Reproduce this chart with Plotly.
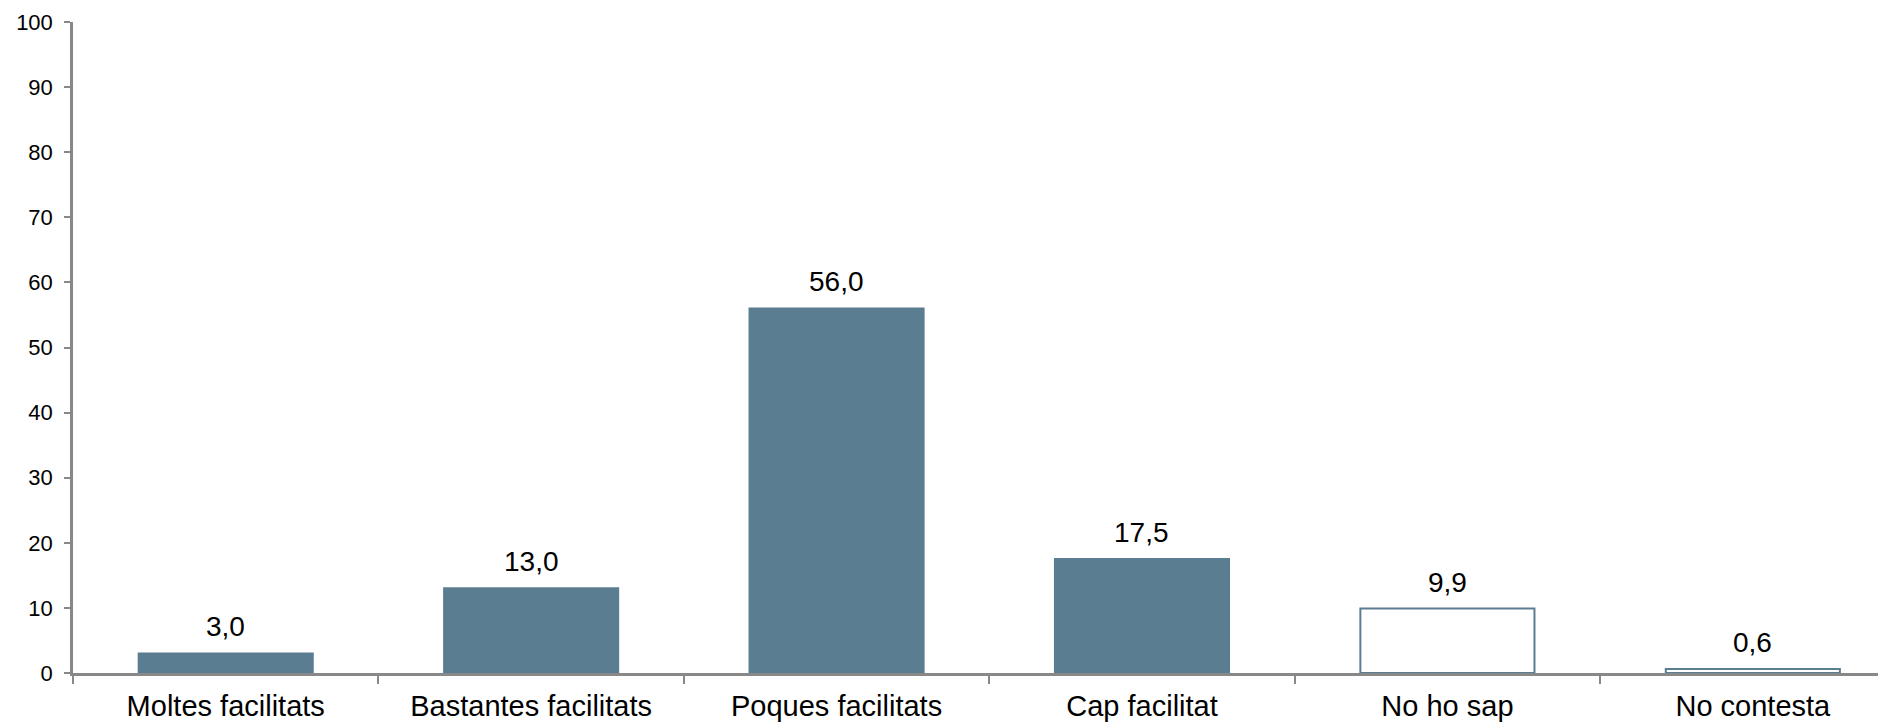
import plotly.graph_objects as go

categories = ["Moltes facilitats", "Bastantes facilitats", "Poques facilitats",
              "Cap facilitat", "No ho sap", "No contesta"]
values = [3.0, 13.0, 56.0, 17.5, 9.9, 0.6]
filled = [True, True, True, True, False, False]
y_ticks = [0, 10, 20, 30, 40, 50, 60, 70, 80, 90, 100]

BAR = "#5B7D91"
AXIS = "#888888"
FONT = "Liberation Sans, Arial, sans-serif"

fills = [BAR if f else "#FFFFFF" for f in filled]

fig = go.Figure()
fig.add_trace(go.Bar(
    x=categories, y=values,
    width=0.57,
    marker=dict(color=fills, line=dict(color=BAR, width=2)),
    hoverinfo="skip",
))

for c, v in zip(categories, values):
    fig.add_annotation(
        x=c, y=v, text=f"{v:.1f}".replace(".", ","),
        showarrow=False, yanchor="bottom", yshift=9,
        font=dict(family=FONT, size=28, color="#000000"),
    )

# page body has an 8px default margin, so the figure is reduced accordingly
fig.update_layout(
    width=1878, height=715,
    margin=dict(l=65, r=0, t=14, b=50),
    paper_bgcolor="white", plot_bgcolor="white",
    separators=",.",
    showlegend=False,
    font=dict(family=FONT, color="#000000"),
)
fig.update_xaxes(
    type="category", range=[-0.5, 5.436],
    showline=True, linecolor=AXIS, linewidth=2.5,
    ticks="outside", tickson="boundaries", ticklen=8, tickcolor=AXIS, tickwidth=2,
    tickfont=dict(family=FONT, size=29, color="#000000"),
    ticklabelstandoff=5,
    showgrid=False, zeroline=False,
)
fig.update_yaxes(
    range=[0, 100], tickvals=y_ticks,
    showline=True, linecolor=AXIS, linewidth=2.5,
    ticks="outside", ticklen=6, tickcolor=AXIS, tickwidth=2,
    tickfont=dict(family=FONT, size=22, color="#000000"),
    ticklabelstandoff=7,
    showgrid=False, zeroline=False,
)

fig.write_html("out.html")
